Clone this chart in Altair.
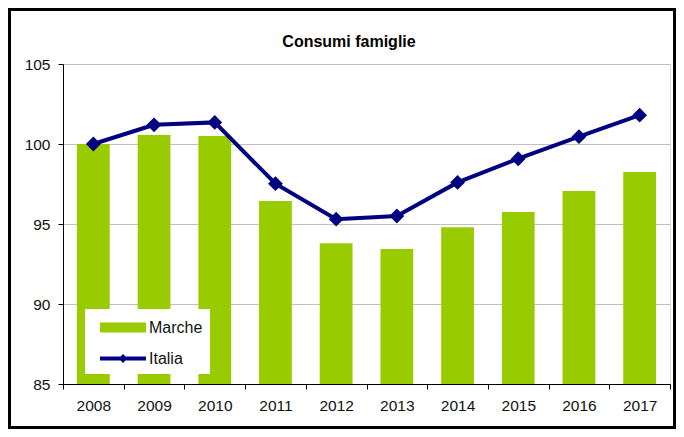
import altair as alt
import pandas as pd

years = ["2008", "2009", "2010", "2011", "2012", "2013", "2014", "2015", "2016", "2017"]
marche = [100.0, 100.56, 100.5, 96.44, 93.8, 93.44, 94.8, 95.75, 97.06, 98.25]
italia = [100.0, 101.2, 101.35, 97.52, 95.3, 95.5, 97.6, 99.08, 100.46, 101.8]
series_names = ["Marche", "Italia"]
series_colors = ["#99cc00", "#000080"]
y_ticks = [85, 90, 95, 100, 105]
y_min, y_max = 85, 105

bars_df = pd.DataFrame({"year": years, "value": marche, "series": "Marche"})
line_df = pd.DataFrame({"year": years, "value": italia, "series": "Italia"})

W, H = 607, 320
PAD = {"left": 55, "top": 56, "right": 6, "bottom": 45}
FONT = "Liberation Sans"

# legend symbol paths (unit r = 11.5px)
rect_path = "M-0.304,-0.435H3.696V0.435H-0.304Z"
line_path = ("M-0.304,-0.174H3.696V0.174H-0.304Z "
             "M1.696,-0.39L2.086,0L1.696,0.39L1.306,0Z")

x_enc = alt.X(
    "year:N",
    scale=alt.Scale(paddingInner=0, paddingOuter=0),
    axis=alt.Axis(
        title=None, labelAngle=0, tickBand="extent", tickSize=5,
        tickColor="black", domainColor="black", labelFontSize=15.5,
        labelColor="#111111", labelPadding=9, grid=False, labelFont=FONT,
    ),
)
y_enc = alt.Y(
    "value:Q",
    scale=alt.Scale(domain=[y_min, y_max], nice=False, zero=False),
    axis=alt.Axis(
        title=None, values=y_ticks, tickSize=5, tickColor="black",
        domainColor="black", labelFontSize=15.5, labelColor="#111111",
        labelPadding=8, grid=True, gridColor="#c0c0c0", labelFont=FONT,
    ),
)

def make_legend():
    return alt.Legend(
        title=None, orient="none", legendX=22, legendY=245,
        fillColor="white", padding=7, labelFontSize=16, labelColor="#111111",
        labelFont=FONT, symbolSize=529, labelOffset=34, rowPadding=11,
        symbolStrokeWidth=0, symbolOpacity=1,
    )

fill_enc = alt.Fill(
    "series:N",
    scale=alt.Scale(domain=series_names, range=series_colors),
    legend=make_legend(),
)
shape_enc = alt.Shape(
    "series:N",
    scale=alt.Scale(domain=series_names, range=[rect_path, line_path]),
    legend=make_legend(),
)

bars = alt.Chart(bars_df).mark_bar(width=alt.RelativeBandSize(0.54)).encode(
    x=x_enc, y=y_enc, y2=alt.datum(y_min), fill=fill_enc
)
line = alt.Chart(line_df).mark_line(strokeWidth=4, color="#000080").encode(
    x=x_enc, y=y_enc
)
points = alt.Chart(line_df).mark_point(
    shape="diamond", filled=True, size=220, opacity=1, color="#000080"
).encode(x=x_enc, y=y_enc)
legend_layer = alt.Chart(line_df).transform_filter("false").mark_point(filled=True).encode(
    x=x_enc, y=y_enc, fill=fill_enc, shape=shape_enc
)
frame = alt.Chart(alt.Data(values=[{"f": 1}])).mark_rect(
    fillOpacity=0, stroke="black", strokeWidth=3
).encode(
    x=alt.value(-PAD["left"] + 1.5), x2=alt.value(W + PAD["right"] - 1.5),
    y=alt.value(-PAD["top"] + 1.5), y2=alt.value(H + PAD["bottom"] - 1.5),
)

chart = alt.layer(bars, line, points, legend_layer, frame).properties(
    width=W, height=H,
    title=alt.TitleParams("Consumi famiglie", fontSize=16, fontWeight="bold",
                          font=FONT, color="black", dx=-17.5, offset=-42),
    autosize=alt.AutoSizeParams(type="none"),
    padding=PAD,
).configure_view(strokeWidth=0).configure(font=FONT)

chart.save("out.html", embed_options={"renderer": "svg", "actions": False})
